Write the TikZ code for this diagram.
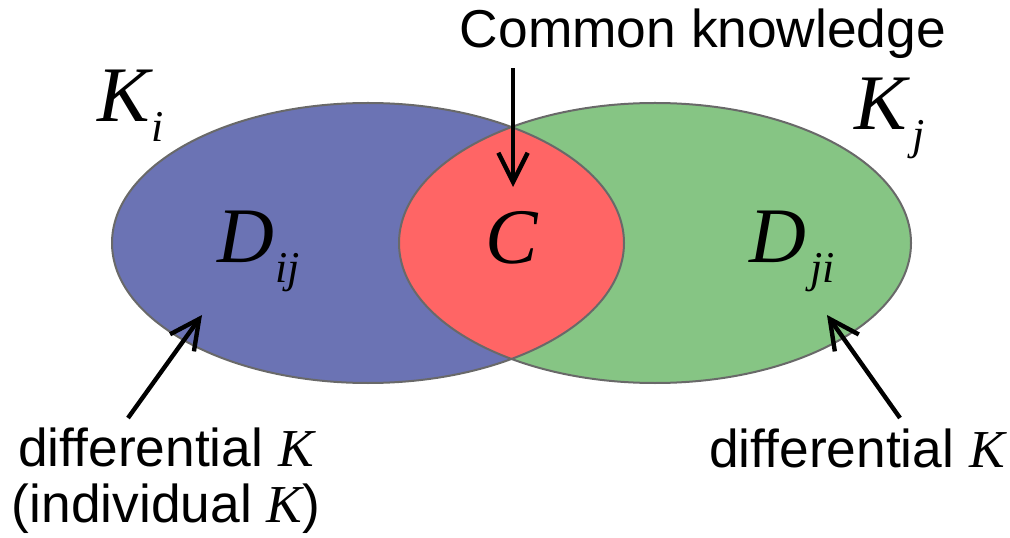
\documentclass[tikz,border=0pt]{standalone}
\usepackage{fontspec}
\setmainfont{Liberation Sans}
\newfontfamily\timesit{Liberation Serif}
\usetikzlibrary{arrows.meta}
\definecolor{setBlue}{RGB}{107,115,180}
\definecolor{setGreen}{RGB}{134,197,132}
\definecolor{setRed}{RGB}{255,101,101}
\definecolor{rimGray}{RGB}{105,105,105}
\newcommand{\subx}[1]{\raisebox{-15pt}{\fontsize{33}{33}\selectfont #1}}
\newcommand{\itK}{{\timesit\itshape K}}
\tikzset{
  vd/txt/.style={inner sep=0pt, font=\fontsize{40}{42}\selectfont, align=center},
  vd/sym/.style={inner sep=0pt, font=\fontsize{59}{60}\selectfont\timesit\itshape},
  vd/rim/.style={draw=rimGray, line width=1.5pt},
  vd/arr/.style={-{Straight Barb[length=22pt,width=22pt]}, line width=3.3pt,
    draw=black}
}

\begin{document}
\begin{tikzpicture}[x=0.75pt, y=-0.75pt]
  \useasboundingbox (0,0) rectangle (1010,538);

  % the two sets and their overlap
  \fill[setBlue]  (368,243) ellipse [x radius=192pt, y radius=105pt];
  \fill[setGreen] (655,243) ellipse [x radius=192pt, y radius=105pt];
  \begin{scope}
    \clip (368,243) ellipse [x radius=192pt, y radius=105pt];
    \fill[setRed] (655,243) ellipse [x radius=192pt, y radius=105pt];
  \end{scope}
  \draw[vd/rim] (368,243) ellipse [x radius=192pt, y radius=105pt];
  \draw[vd/rim] (655,243) ellipse [x radius=192pt, y radius=105pt];

  % symbols
  \node[vd/sym, anchor=base west] (Ki)  at (97,122)  {K\kern1pt\subx{i}};
  \node[vd/sym, anchor=base west] (Kj)  at (854,130) {K\kern4pt\subx{j}};
  \node[vd/sym, anchor=base west] (Dij) at (217,263) {D\kern1pt\subx{ij}};
  \node[vd/sym, anchor=base]      (C)   at (512,264) {C};
  \node[vd/sym, anchor=base west] (Dji) at (749,263) {D\kern3pt\subx{ji}};

  % labels
  \node[vd/txt, anchor=base] (ck) at (703,48) {Common knowledge};
  \node[vd/txt, anchor=north] (difL) at (166,428)
        {differential \itK\\(individual \itK)};
  \node[vd/txt, anchor=base] (difR) at (857,467) {differential \itK};

  \coordinate (inC)   at (513,187);
  \coordinate (inDij) at (202,315);
  \coordinate (inDji) at (827,315);
  \coordinate (tailL) at (128,418);
  \coordinate (tailR) at (900,418);

  \draw[vd/arr] (ck.south -| inC) ++(0,9) -- (inC);
  \draw[vd/arr] (tailL) -- (inDij);
  \draw[vd/arr] (tailR) -- (inDji);
\end{tikzpicture}
\end{document}
